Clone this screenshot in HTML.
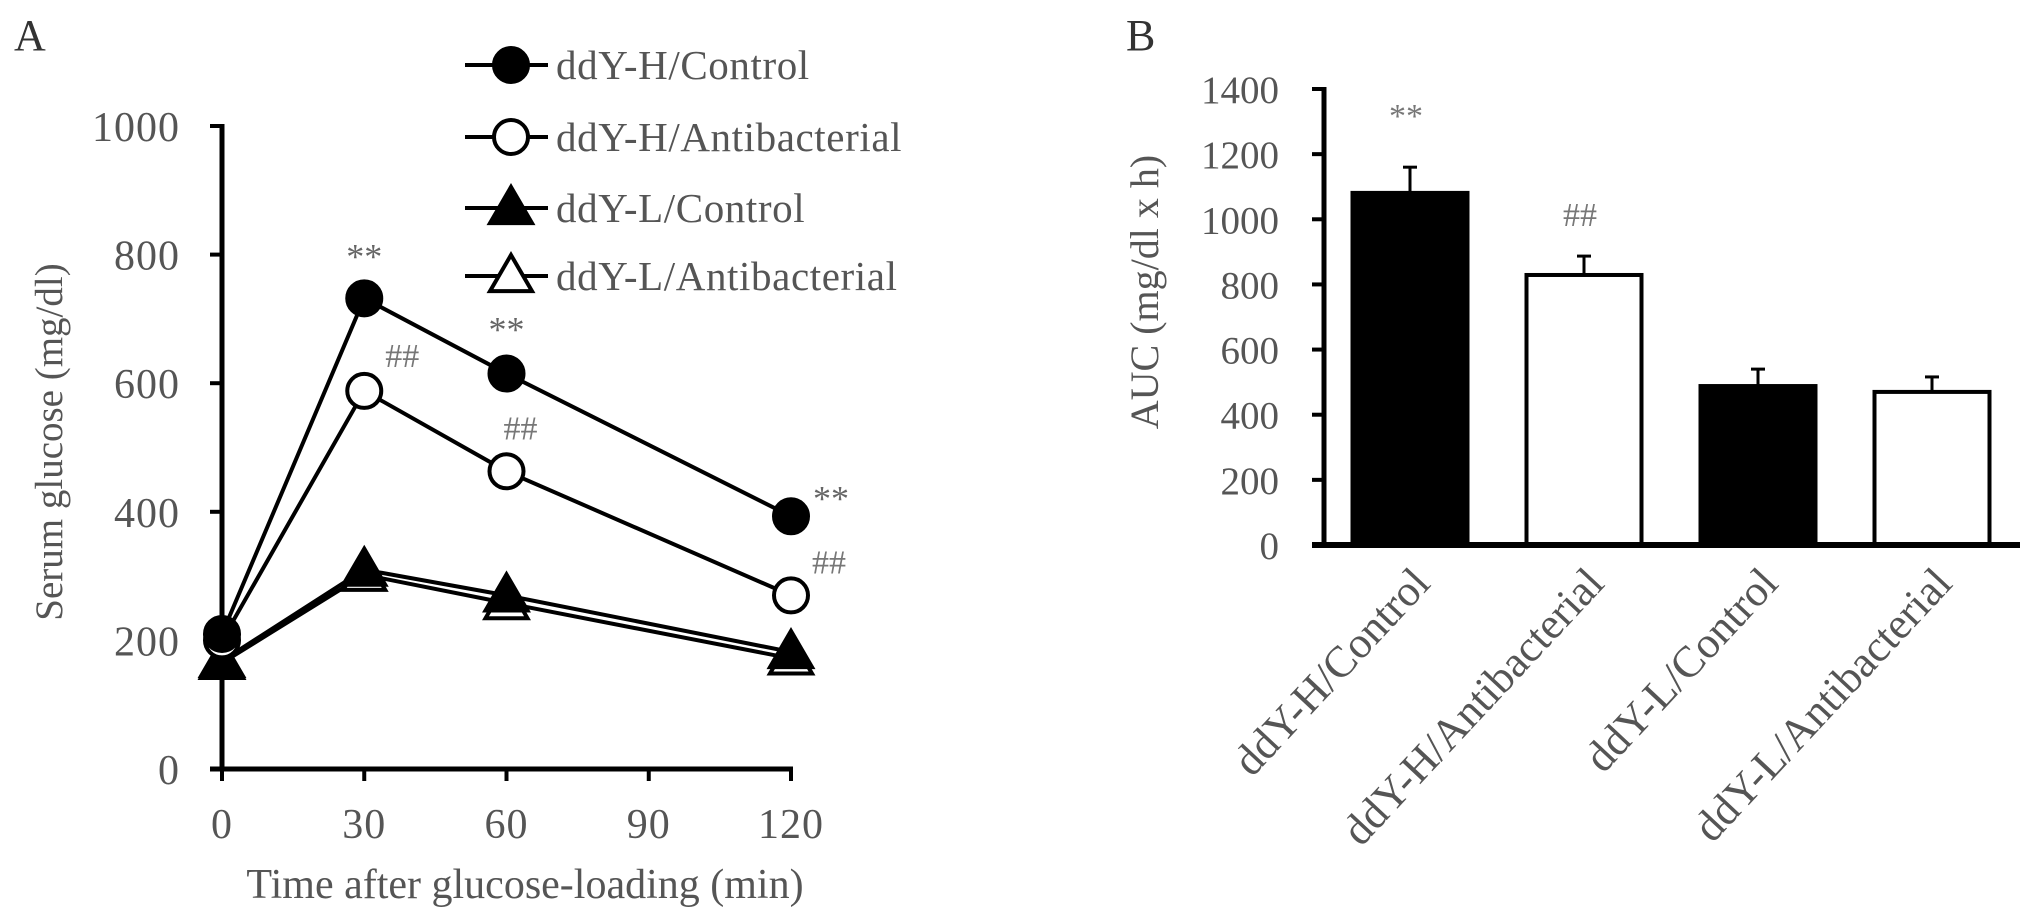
<!DOCTYPE html>
<html><head><meta charset="utf-8">
<style>
html,body{margin:0;padding:0;background:#fff;}
svg{display:block;font-family:"Liberation Serif",serif;}
</style></head>
<body>
<svg id="chart" width="2031" height="915" viewBox="0 0 2031 915" xmlns="http://www.w3.org/2000/svg">
<text x="14" y="50" font-size="44" fill="#333">A</text>
<text x="1126" y="50" font-size="44" fill="#333">B</text>
<g id="gA"></g>
<g id="gB"></g>
</svg>
<script>
const timePoints = [0, 30, 60, 120];
const xTicks = [0, 30, 60, 90, 120];
const yTicksA = [0, 200, 400, 600, 800, 1000];
const seriesNames = ["ddY-H/Control", "ddY-H/Antibacterial", "ddY-L/Control", "ddY-L/Antibacterial"];
const hControl = [210, 732, 615, 393];
const hAnti = [200, 588, 463, 270];
const lControl = [168, 310, 270, 182];
const lAnti = [165, 302, 258, 172];
const starsA = ["", "**", "**", "**"];
const hashA = ["", "##", "##", "##"];

const categories = ["ddY-H/Control", "ddY-H/Antibacterial", "ddY-L/Control", "ddY-L/Antibacterial"];
const aucValues = [1081, 829, 488, 470];
const aucErrors = [79, 58, 52, 46];
const yTicksB = [0, 200, 400, 600, 800, 1000, 1200, 1400];
const aucMarks = ["**", "##", "", ""];

const NS = "http://www.w3.org/2000/svg";
function el(tag, attrs, parent, text) {
  const e = document.createElementNS(NS, tag);
  for (const k in attrs) e.setAttribute(k, attrs[k]);
  if (text !== undefined) e.textContent = text;
  parent.appendChild(e);
  return e;
}
const TXT = "#555";

// ---------- Panel A ----------
const gA = document.getElementById("gA");
const ax0 = 222, ax1 = 791, ay0 = 769, ay1 = 126;
const xA = v => ax0 + (v - 0) / 120 * (ax1 - ax0);
const yA = v => ay0 - v / 1000 * (ay0 - ay1);

let e;
e = el("line", {x1: ax0, y1: ay1 - 2, x2: ax0, y2: ay0 + 2, stroke: "#000", "stroke-width": 5}, gA);


e = el("line", {x1: ax0 - 12, y1: ay0, x2: ax1 + 2, y2: ay0, stroke: "#000", "stroke-width": 5}, gA);


yTicksA.forEach(t => {
  const y = yA(t);
  e = el("line", {x1: ax0 - 12, y1: y, x2: ax0, y2: y, stroke: "#000", "stroke-width": 4}, gA);
  
  
  e = el("text", {x: 180, y: y + 15, "font-size": 42, fill: TXT, "text-anchor": "end", "letter-spacing": "1"}, gA, String(t));
  
  
});
xTicks.forEach(t => {
  const x = xA(t);
  e = el("line", {x1: x, y1: ay0, x2: x, y2: ay0 + 12, stroke: "#000", "stroke-width": 4}, gA);
  
  
  e = el("text", {x: x, y: 838, "font-size": 42, fill: TXT, "text-anchor": "middle", "letter-spacing": "1"}, gA, String(t));
  
  
});
e = el("text", {x: 525, y: 898, "font-size": 42, fill: TXT, "text-anchor": "middle"}, gA, "Time after glucose-loading (min)");


e = el("text", {x: 0, y: 0, "font-size": 39, fill: TXT, "text-anchor": "middle", transform: "translate(62,442) rotate(-90)"}, gA, "Serum glucose (mg/dl)");



function marker(g, type, cx, cy) {
  if (type === "fc" || type === "oc") {
    return el("circle", {cx: cx, cy: cy, r: 17, fill: type === "fc" ? "#000" : "#fff", stroke: "#000", "stroke-width": 4}, g);
  }
  const s = 21;
  return el("polygon", {points: `${cx},${cy - s} ${cx + s},${cy + s * 0.72} ${cx - s},${cy + s * 0.72}`, fill: type === "ft" ? "#000" : "#fff", stroke: "#000", "stroke-width": 4, "stroke-linejoin": "miter"}, g);
}
const seriesData = [hControl, hAnti, lControl, lAnti];
const types = ["fc", "oc", "ft", "ot"];
[3, 2, 1, 0].forEach(i => {
  const pts = timePoints.map((t, j) => `${xA(t)},${yA(seriesData[i][j])}`).join(" ");
  e = el("polyline", {points: pts, fill: "none", stroke: "#000", "stroke-width": 4}, gA);
  
  
});
[3, 2, 1, 0].forEach(i => {
  timePoints.forEach((t, j) => {
    e = marker(gA, types[i], xA(t), yA(seriesData[i][j]));
    
    
  });
});
const starOff = [[0, 0], [0, -30], [0, -32], [40, -6]];
const hashOff = [[0, 0], [38, -24], [14, -32], [38, -22]];
timePoints.forEach((t, j) => {
  if (starsA[j]) {
    e = el("text", {x: xA(t) + starOff[j][0], y: yA(hControl[j]) + starOff[j][1], "font-size": 36, fill: "#666", "text-anchor": "middle"}, gA, starsA[j]);
    
    
  }
  if (hashA[j]) {
    e = el("text", {x: xA(t) + hashOff[j][0], y: yA(hAnti[j]) + hashOff[j][1], "font-size": 34, fill: "#777", "text-anchor": "middle"}, gA, hashA[j]);
    
    
  }
});
const legY = [65, 137, 208, 276];
seriesNames.forEach((n, i) => {
  const lg = el("g", {}, gA);
  
  
  el("line", {x1: 465, y1: legY[i], x2: 548, y2: legY[i], stroke: "#000", "stroke-width": 4}, lg);
  marker(lg, types[i], 511, legY[i]);
  el("text", {x: 556, y: legY[i] + 14, "font-size": 41, fill: TXT, "letter-spacing": "0.6"}, lg, n);
});

// ---------- Panel B ----------
const gB = document.getElementById("gB");
const bx0 = 1324, bx1 = 2020, by0 = 545, by1 = 89;
const yB = v => by0 - v / 1400 * (by0 - by1);
const slot = 174, bw = 115, firstCenter = 1410;
const xB = i => firstCenter + i * slot;

yTicksB.forEach(t => {
  const y = yB(t);
  e = el("line", {x1: bx0 - 12, y1: y, x2: bx0, y2: y, stroke: "#000", "stroke-width": 4}, gB);
  
  
  e = el("text", {x: 1279, y: y + 14, "font-size": 39, fill: TXT, "text-anchor": "end"}, gB, String(t));
  
  
});
e = el("text", {x: 0, y: 0, "font-size": 40, fill: TXT, "text-anchor": "middle", transform: "translate(1158,292) rotate(-90)"}, gB, "AUC (mg/dl x h)");



const markOff = [-40, -30, 0, 0];
aucValues.forEach((v, i) => {
  const cx = xB(i);
  const top = yB(v + aucErrors[i]);
  e = el("line", {x1: cx, y1: yB(v), x2: cx, y2: top, stroke: "#000", "stroke-width": 3}, gB);
  
  
  e = el("line", {x1: cx - 7, y1: top, x2: cx + 7, y2: top, stroke: "#000", "stroke-width": 3}, gB);
  
  
  e = el("rect", {x: cx - bw / 2, y: yB(v), width: bw, height: by0 - yB(v), fill: i % 2 === 0 ? "#000" : "#fff", stroke: "#000", "stroke-width": 4}, gB);
  
  
  if (aucMarks[i]) {
    e = el("text", {x: cx - 4, y: top + markOff[i], "font-size": 34, fill: "#777", "text-anchor": "middle"}, gB, aucMarks[i]);
    
    
  }
  e = el("text", {x: 0, y: 0, "font-size": 44, fill: TXT, "text-anchor": "end", transform: `translate(${cx + 22},${585}) rotate(-47)`}, gB, categories[i]);
  
  
});
e = el("line", {x1: bx0, y1: by1 - 2, x2: bx0, y2: by0 + 2, stroke: "#000", "stroke-width": 5}, gB);


e = el("line", {x1: bx0 - 12, y1: by0, x2: bx1, y2: by0, stroke: "#000", "stroke-width": 6}, gB);


</script>
</body></html>
